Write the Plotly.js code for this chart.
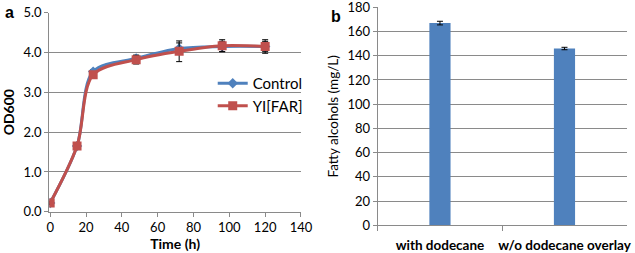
<!DOCTYPE html>
<html>
<head>
<meta charset="utf-8">
<script src="https://cdn.plot.ly/plotly-3.0.1.min.js"></script>
<style>html,body{margin:0;padding:0;background:#fff;}#chart{width:635px;height:253px;}</style>
</head>
<body>
<div id="chart"></div>
<script>
// Panel a: growth curves
const timeH = [0, 15, 24, 48, 72, 96, 120];
const controlOD = [0.22, 1.65, 3.52, 3.85, 4.10, 4.15, 4.15];
const controlErr = [0.03, 0.05, 0.05, 0.08, 0.14, 0.13, 0.13];
const farOD = [0.22, 1.65, 3.44, 3.82, 4.03, 4.17, 4.15];
const farErr = [0.03, 0.05, 0.05, 0.11, 0.26, 0.15, 0.17];
const odTicks = [0, 1, 2, 3, 4, 5];
const timeTicks = [0, 20, 40, 60, 80, 100, 120, 140];
// Panel b: fatty alcohol titres
const conditions = ['with dodecane', 'w/o dodecane overlay'];
const alcohols = [167, 146];
const alcoholsErr = [1.5, 1.0];
const alcTicks = [0, 20, 40, 60, 80, 100, 120, 140, 160, 180];

const BLUE = '#4F81BD', RED = '#C0504D';
const FONT = 'Lato, "Open Sans", sans-serif';

const traces = [
  {x: timeH, y: controlOD, name: 'Control', type: 'scatter', mode: 'lines+markers',
   line: {color: BLUE, width: 3, shape: 'spline', smoothing: 0.9},
   marker: {symbol: 'diamond', size: 8, color: BLUE},
   error_y: {type: 'data', array: controlErr, color: '#000', thickness: 1, width: 3},
   xaxis: 'x', yaxis: 'y'},
  {x: timeH, y: farOD, name: 'YI[FAR]', type: 'scatter', mode: 'lines+markers',
   line: {color: RED, width: 3, shape: 'spline', smoothing: 0.9},
   marker: {symbol: 'square', size: 9, color: RED},
   error_y: {type: 'data', array: farErr, color: '#000', thickness: 1, width: 3},
   xaxis: 'x', yaxis: 'y'},
  {x: conditions, y: alcohols, type: 'bar', width: 0.17, showlegend: false,
   marker: {color: BLUE},
   error_y: {type: 'data', array: alcoholsErr, color: '#000', thickness: 1, width: 3},
   xaxis: 'x2', yaxis: 'y2'}
];

const gridC = '#8a8a8a';
const layout = {
  width: 635, height: 253,
  margin: {l: 0, r: 0, t: 0, b: 0},
  paper_bgcolor: '#fff', plot_bgcolor: '#fff',
  font: {family: FONT, size: 13, color: '#000'},
  showlegend: true,
  legend: {x: 0.335, y: 0.735, xanchor: 'left', yanchor: 'top', bgcolor: 'rgba(0,0,0,0)',
           font: {family: FONT, size: 15}, itemwidth: 30, tracegroupgap: 0},
  xaxis: {domain: [0.0776, 0.474], range: [-0.5, 140], tickmode: 'array', tickvals: timeTicks,
          showgrid: false, zeroline: false, showline: true, linecolor: gridC, linewidth: 1,
          ticks: 'outside', ticklen: 4, tickcolor: gridC, tickfont: {size: 13},
          title: {text: '<b>Time (h)</b>', font: {size: 14}, standoff: 3}},
  yaxis: {domain: [0.163, 0.95], range: [0, 5.0001], tickmode: 'array', tickvals: odTicks, tickformat: '.1f',
          showgrid: true, gridcolor: gridC, zeroline: false, showline: true, linecolor: gridC,
          ticks: 'outside', ticklen: 4, tickcolor: gridC, tickfont: {size: 13},
          ticklabeloverflow: 'allow',
          title: {text: '<b>OD600</b>', font: {size: 14}, standoff: 5}},
  xaxis2: {domain: [0.5948, 0.987], range: [-0.5, 1.5], type: 'category',
           showgrid: false, zeroline: false, showline: true, linecolor: gridC,
           ticks: 'outside', tickson: 'boundaries', ticklen: 5, tickcolor: gridC,
           tickangle: 0, ticklabelstandoff: 8, ticklabeloverflow: 'allow',
           tickfont: {size: 13.5, family: FONT}, tickprefix: '<b>', ticksuffix: '</b>', anchor: 'y2'},
  yaxis2: {domain: [0.1095, 0.971], range: [0, 180.01], tickmode: 'array', tickvals: alcTicks,
           showgrid: true, gridcolor: gridC, zeroline: false, showline: true, linecolor: gridC,
           ticks: 'outside', ticklen: 4, tickcolor: gridC, tickfont: {size: 13}, anchor: 'x2',
           ticklabeloverflow: 'allow',
           title: {text: 'Fatty alcohols (mg/L)', font: {size: 13.5}, standoff: 5}},
  annotations: [
    {text: '<b>a</b>', x: 0.005, y: 0.95, xref: 'paper', yref: 'paper', showarrow: false,
     font: {family: 'Liberation Sans, Arial', size: 16}, xanchor: 'left', yanchor: 'middle'},
    {text: '<b>b</b>', x: 0.518, y: 0.935, xref: 'paper', yref: 'paper', showarrow: false,
     font: {family: 'Liberation Sans, Arial', size: 16}, xanchor: 'left', yanchor: 'middle'}
  ]
};

Plotly.newPlot('chart', traces, layout, {staticPlot: true, displayModeBar: false});
</script>
</body>
</html>
